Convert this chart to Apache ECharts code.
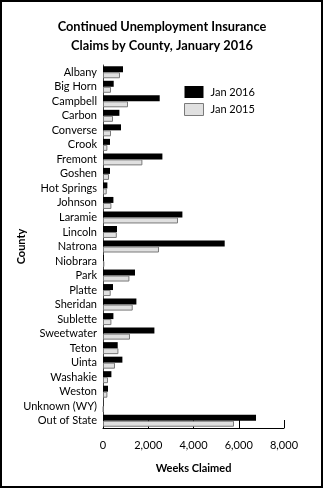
<!DOCTYPE html>
<html><head><meta charset="utf-8">
<script src="https://cdn.jsdelivr.net/npm/echarts@6/dist/echarts.min.js"></script>
<style>html,body{margin:0;padding:0;background:#fff}#c{width:324px;height:489px}</style>
</head><body><div id="c"></div>
<script>
const counties = ["Albany","Big Horn","Campbell","Carbon","Converse","Crook","Fremont","Goshen","Hot Springs","Johnson","Laramie","Lincoln","Natrona","Niobrara","Park","Platte","Sheridan","Sublette","Sweetwater","Teton","Uinta","Washakie","Weston","Unknown (WY)","Out of State"];
const jan2016 = [884,473,2506,725,796,309,2625,309,194,460,3509,619,5379,40,1414,442,1476,460,2272,650,857,371,221,10,6763];
const jan2015 = [751,354,1105,442,354,194,1741,265,164,371,3315,610,2475,60,1167,340,1313,371,1193,681,530,221,194,20,5790];
const xTicks = [0,2000,4000,6000,8000];
const FONT = "Lato";

const chart = echarts.init(document.getElementById('c'), null, {renderer:'canvas'});
chart.setOption({
  animation:false,
  backgroundColor:'#fff',
  textStyle:{fontFamily:FONT},
  title:{
    text:'Continued Unemployment Insurance\nClaims by County, January 2016',
    left:'center', top:12,
    textStyle:{fontFamily:FONT,fontSize:12.8,fontWeight:'bold',color:'#000',lineHeight:19}
  },
  legend:{
    orient:'vertical', left:179, top:81, itemWidth:19, itemHeight:12, itemGap:5,
    textStyle:{fontFamily:FONT,fontSize:11,color:'#000',padding:[0,0,0,2]},
    data:[
      {name:'Jan 2016',icon:'rect',itemStyle:{color:'#000',borderColor:'#000',borderWidth:0}},
      {name:'Jan 2015',icon:'rect',itemStyle:{color:'#e0e0e0',borderColor:'#7a7a7a',borderWidth:1}}
    ]
  },
  grid:{left:103, right:40, top:65, bottom:61, containLabel:false, outerBoundsMode:'none'},
  xAxis:{
    type:'value', min:xTicks[0], max:xTicks[xTicks.length-1], interval:2000,
    name:'Weeks Claimed', nameLocation:'middle', nameGap:35,
    nameTextStyle:{fontFamily:FONT,fontSize:11,fontWeight:'bold',color:'#000'},
    axisLine:{show:true,lineStyle:{color:'#000',width:1}},
    axisTick:{show:true,inside:true,length:8,lineStyle:{color:'#000'}},
    axisLabel:{fontFamily:FONT,fontSize:11,color:'#000',margin:12,
      formatter:v=>v.toLocaleString('en-US')},
    splitLine:{show:false}
  },
  yAxis:{
    type:'category', data:counties, inverse:true,
    name:'County', nameLocation:'middle', nameGap:76, nameRotate:90, nameMoveOverlap:false,
    nameTextStyle:{fontFamily:FONT,fontSize:11,fontWeight:'bold',color:'#000'},
    axisLine:{show:true,lineStyle:{color:'#444',width:1}},
    axisTick:{show:false},
    axisLabel:{fontFamily:FONT,fontSize:11,color:'#000',margin:6,interval:0,hideOverlap:false}
  },
  series:[
    {name:'Jan 2016',type:'bar',data:jan2016,barWidth:6,barGap:'0%',
      itemStyle:{color:'#000',borderColor:'#000',borderWidth:0}},
    {name:'Jan 2015',type:'bar',data:jan2015,barWidth:6,barGap:'0%',
      itemStyle:{color:'#e0e0e0',borderColor:'#7a7a7a',borderWidth:1}}
  ],
  graphic:[{type:'rect',shape:{x:1,y:1,width:321,height:486},style:{fill:'none',stroke:'#000',lineWidth:2},z:100}]
});
</script></body></html>
